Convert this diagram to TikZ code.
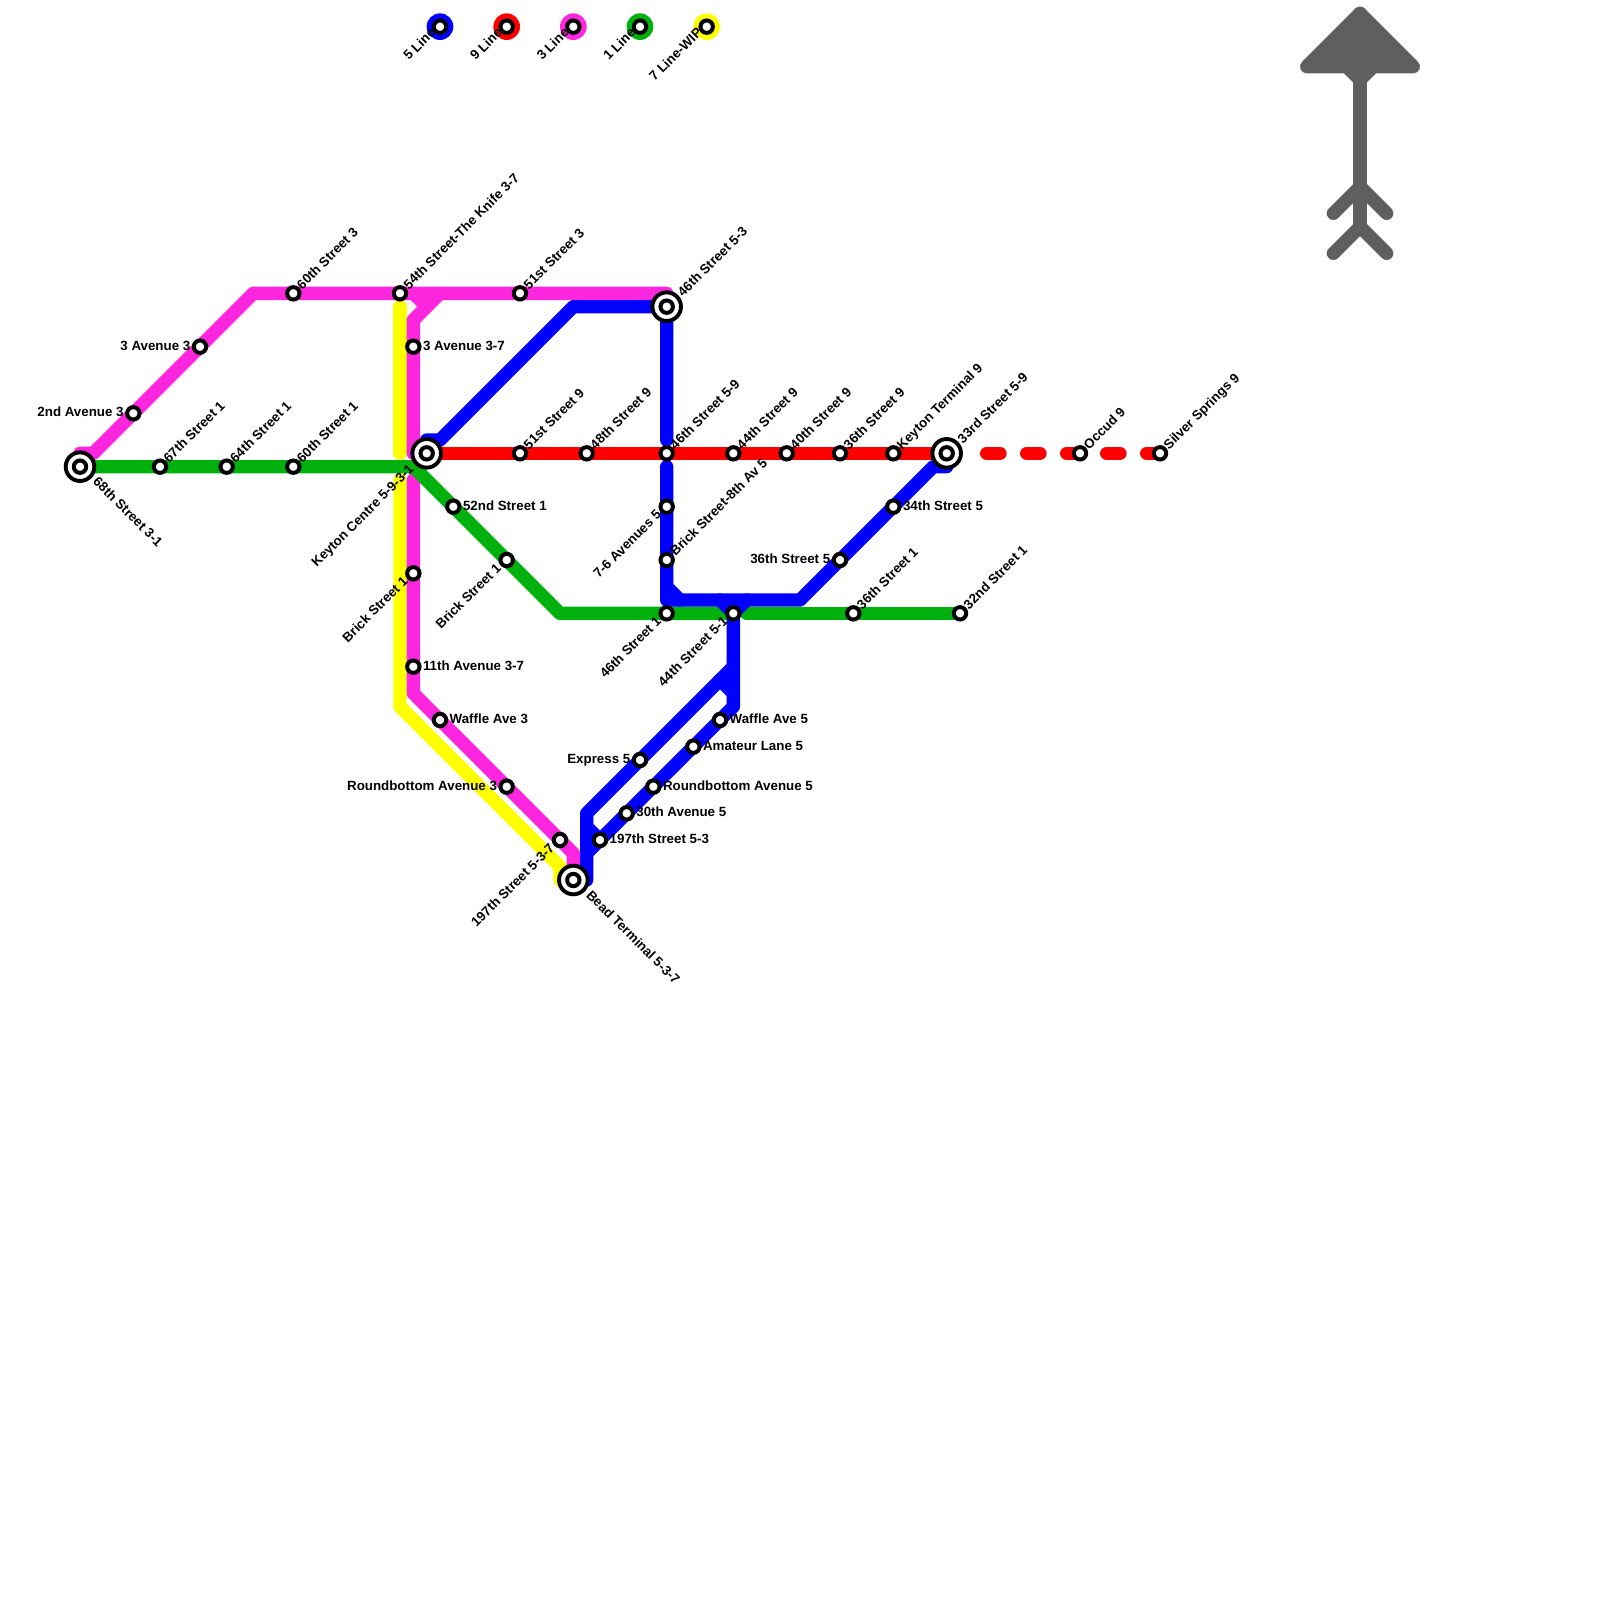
\documentclass[tikz,border=0pt]{standalone}
\usepackage{fontspec}
\setmainfont{Liberation Sans}
\definecolor{lfive}{RGB}{0,0,255}
\definecolor{lnine}{RGB}{255,0,0}
\definecolor{lthree}{RGB}{255,38,224}
\definecolor{lone}{RGB}{0,176,12}
\definecolor{lseven}{RGB}{255,255,0}
\definecolor{greyn}{RGB}{95,95,95}
\tikzset{
  lab/.style={font=\bfseries\fontsize{13.33bp}{15bp}\selectfont,inner sep=0pt,text=black},
  ne/.style={lab,anchor=mid west,xshift=7bp,yshift=5bp,rotate=45},
  nebig/.style={lab,anchor=mid west,xshift=14.5bp,yshift=11bp,rotate=45},
  se/.style={lab,anchor=mid west,xshift=14bp,yshift=-14bp,rotate=-45},
  sw/.style={lab,anchor=mid east,xshift=-6.5bp,yshift=-7bp,rotate=45},
  swbig/.style={lab,anchor=mid east,xshift=-14bp,yshift=-15bp,rotate=45},
  leg/.style={lab,anchor=mid east,xshift=-5.5bp,yshift=-5bp,rotate=45},
  ea/.style={lab,anchor=mid west,xshift=9.5bp,yshift=-1bp},
  we/.style={lab,anchor=mid east,xshift=-9.5bp,yshift=-1bp},
  stn/.style={circle,draw=black,fill=white,line width=4bp,minimum size=12.4bp,inner sep=0pt},
  bigstn/.style={circle,draw=black,fill=white,line width=3.9bp,minimum size=28.6bp,inner sep=0pt},
  metro/.style={line width=13.333bp,line cap=round,line join=round},
  disc/.style={circle,minimum size=26.67bp,inner sep=0pt},
}
\begin{document}
\begin{tikzpicture}[x=13.3333bp,y=-13.3333bp]
\useasboundingbox (0,0) rectangle (120,120);
\fill[white] (0,0) rectangle (120,120);
% stations and bends on the 13.33 px grid
\foreach \n/\x/\y in {
 a68/6/35,a67/12/35,a64/17/35,a60o/22/35,a2nd/10/31,a3av/15/26,a60t/22/22,a54/30/22,a51t/39/22,a46t/50/23,
 a3a7/31/26,key/32/34,a51r/39/34,a48r/44/34,a46r/50/34,a44r/55/34,a40r/59/34,a36r/63/34,kter/67/34,a33/71/34,
 occ/81/34,sil/87/34,a76/50/38,brk8/50/42,a46o/50/46,a44b/55/46,a36o/64/46,a32/72/46,a36b/63/42,a34/67/38,
 a52/34/38,brko/38/42,brkm/31/43,a11/31/50,wafm/33/54,rndm/38/59,s197m/42/63,bead/43/66,s197b/45/63,a30/47/61,
 rndb/49/59,ama/52/56,wafb/54/54,exp/48/57,
 k5/33/2,k9/38/2,k3/43/2,k1/48/2,k7/53/2,
 m1/6/34,m2/7/34,m3/19/22,m4/50/22,m5/33/22,m6/31/24,m7/31/34,m8/31/22,m9/32/23,m10/31/36,m11/31/52,m12/43/64,
 y1/30/23,y2/30/34,y3/30/36,y4/30/53,y5/42/65,y6/42/66,
 g1/31/35,g2/42/46,g3/55/46,g4/56/46,
 b1/32/33,b2/33/33,b3/43/23,b4/50/33,b5/50/35,b6/50/45,b7/60/45,b8/70/35,b9/71/35,b10/50/44,b11/51/45,b12/54/45,b13/56/45,
 b14/55/53,b15/44/64,b16/44/66,b17/55/50,b18/44/61,b19/54/51,b20/55/52,b21/44/62,
 r1/74/34,
 n1/102/1,n2/98/5,n3/106/5,n4/101/5,n5/102/6,n6/103/5,n7/102/17,n8/102/14,n9/100/16,n10/104/16,n11/100/19,n12/104/19
}{\coordinate (\n) at (\x,\y);}
% line 7
\draw[metro,lseven] (y1) -- (y2);
\draw[metro,lseven] (y3) -- (y4) -- (y5) -- (y6) -- (bead);
% line 3
\draw[metro,lthree] (m1) -- (m2) -- (m3) -- (m4);
\draw[metro,lthree] (m5) -- (m6) -- (m7);
\draw[metro,lthree] (m8) -- (m9);
\draw[metro,lthree] (m10) -- (m11) -- (m12) -- (bead);
% line 1
\draw[metro,lone] (a68) -- (g1) -- (g2) -- (g3);
\draw[metro,lone] (g4) -- (a32);
% line 5
\draw[metro,lfive] (b1) -- (b2) -- (b3) -- (a46t) -- (b4);
\draw[metro,lfive] (b5) -- (b6) -- (b7) -- (b8) -- (b9);
\draw[metro,lfive] (b10) -- (b11);
\draw[metro,lfive] (b12) -- (a44b) -- (b13);
\draw[metro,lfive] (a44b) -- (b14) -- (b15) -- (b16) -- (bead);
\draw[metro,lfive] (b17) -- (b18) -- (b15);
\draw[metro,lfive] (b19) -- (b20);
\draw[metro,lfive] (b21) -- (s197b);
% line 9
\draw[metro,lnine] (key) -- (a33);
\draw[metro,lnine,dash pattern=on 13.333bp off 26.667bp] (r1) -- (sil);
% north sign
\fill[greyn,draw=greyn,metro] (n1) -- (n2) -- (n3) -- cycle;
\draw[metro,greyn] (n4) -- (n5) -- (n6);
\draw[metro,greyn] (n1) -- (n7);
\draw[metro,greyn] (n9) -- (n8) -- (n10);
\draw[metro,greyn] (n11) -- (n7) -- (n12);
% legend discs
\foreach \n/\c in {k5/lfive,k9/lnine,k3/lthree,k1/lone,k7/lseven}
  {\node[disc,fill=\c] (d\n) at (\n) {};}
% big rings
\foreach \n in {a68,key,a46t,a33,bead}
  {\node[bigstn] (big\n) at (\n) {};}
% stations and labels
\foreach \n/\s/\t in {
 a60t/ne/60th Street 3,a54/ne/54th Street-The Knife 3-7,a51t/ne/51st Street 3,a46t/nebig/46th Street 5-3,
 a67/ne/67th Street 1,a64/ne/64th Street 1,a60o/ne/60th Street 1,a51r/ne/51st Street 9,a48r/ne/48th Street 9,
 a46r/ne/46th Street 5-9,a44r/ne/44th Street 9,a40r/ne/40th Street 9,a36r/ne/36th Street 9,kter/ne/Keyton Terminal 9,
 a33/nebig/33rd Street 5-9,occ/ne/Occud 9,sil/ne/Silver Springs 9,brk8/ne/Brick Street-8th Av 5,a36o/ne/36th Street 1,
 a32/ne/32nd Street 1,
 a3a7/ea/3 Avenue 3-7,a52/ea/52nd Street 1,a34/ea/34th Street 5,a11/ea/11th Avenue 3-7,wafm/ea/Waffle Ave 3,
 wafb/ea/Waffle Ave 5,ama/ea/Amateur Lane 5,rndb/ea/Roundbottom Avenue 5,a30/ea/30th Avenue 5,s197b/ea/197th Street 5-3,
 a3av/we/3 Avenue 3,a2nd/we/2nd Avenue 3,a36b/we/36th Street 5,rndm/we/Roundbottom Avenue 3,exp/we/Express 5,
 key/swbig/Keyton Centre 5-9-3-1,brko/sw/Brick Street 1,brkm/sw/Brick Street 1,a76/sw/7-6 Avenues 5,a46o/sw/46th Street 1,
 a44b/sw/44th Street 5-1,s197m/sw/197th Street 5-3-7,
 k5/leg/5 Line,k9/leg/9 Line,k3/leg/3 Line,k1/leg/1 Line,k7/leg/7 Line-WIP,
 a68/se/68th Street 3-1,bead/se/Bead Terminal 5-3-7
}{\node[stn] (st\n) at (\n) {}; \node[\s] (lb\n) at (\n) {\t};}
\end{tikzpicture}
\end{document}
